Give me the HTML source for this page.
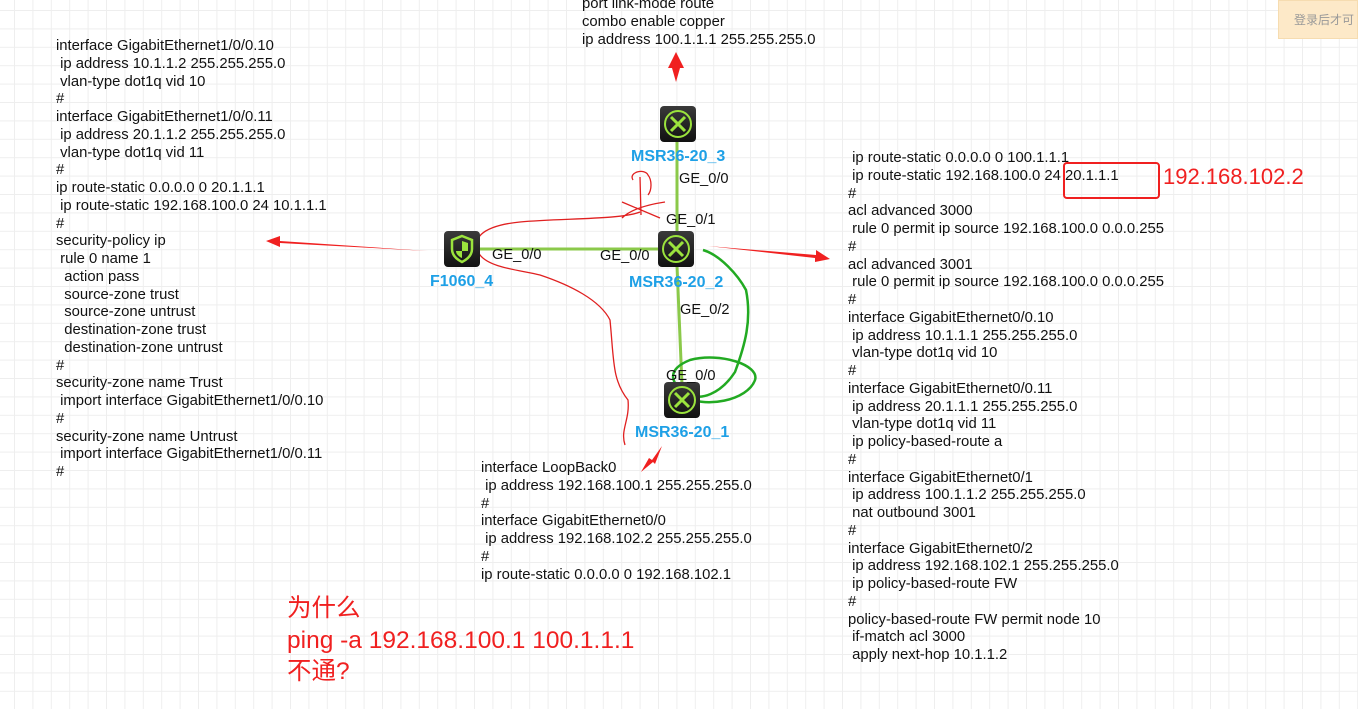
<!DOCTYPE html>
<html><head><meta charset="utf-8"><style>
html,body{margin:0;padding:0}
body{width:1358px;height:709px;position:relative;overflow:hidden;background:#fff;font-family:"Liberation Sans",Arial,sans-serif}
pre{position:absolute;margin:0;font-family:"Liberation Sans",Arial,sans-serif;font-size:14.85px;line-height:17.75px;color:#111}
.lbl{position:absolute;font-weight:bold;color:#1ea0e6;font-size:16px;white-space:nowrap}
.ge{position:absolute;font-size:14.6px;color:#111;white-space:nowrap}
.ic{position:absolute;width:36px;height:36px;background:linear-gradient(#3a3a3a,#111);border-radius:4px}
</style></head><body>
<svg width="1358" height="709" style="position:absolute;left:0;top:0">
<defs><pattern id="g" x="14" y="10" width="18.4" height="18.4" patternUnits="userSpaceOnUse">
<path d="M0,0 H18.4 M0,0 V18.4" stroke="#eeeeee" stroke-width="2" fill="none"/></pattern></defs>
<rect width="1358" height="709" fill="url(#g)"/>
</svg>
<div style="position:absolute;left:1278px;top:0;width:80px;height:39px;background:#fde9c8;border:1px solid #f6dcb0;box-sizing:border-box"></div>
<div style="position:absolute;left:1294px;top:11px;font-size:12px;color:#999;font-family:'Liberation Sans','Noto Sans CJK SC',sans-serif;white-space:nowrap">登录后才可</div>

<svg width="1358" height="709" style="position:absolute;left:0;top:0">
<g stroke="#8bc94a" stroke-width="3" fill="none">
<line x1="478" y1="249" x2="660" y2="249"/>
<line x1="677" y1="140" x2="677" y2="232"/>
<line x1="677" y1="266" x2="682" y2="385"/>
</g>
<g fill="#f02020" stroke="none">
<polygon points="428,251 280,241 280,236 266,241 280,247 280,243"/>
<polygon points="708,246 816,255 816,250 830,259 815,262 815,258"/>
<polygon points="676,82 672,68 668,68 676,52 684,68 680,68"/>
<polygon points="662,446 652,460 649,458 641,472 653,462 655,464"/>
</g>
<path d="M633,180 C628,172 645,168 648,175 C652,180 652,190 648,195 M640,177 L641,215 M622,202 L660,218 M622,218 C630,210 645,205 665,202 M640,212 C620,220 560,218 520,222 C480,226 470,240 480,255 C490,268 520,270 540,275 C570,285 600,300 610,320 C614,360 612,380 628,400 C630,420 620,430 625,445"
 stroke="#e02020" stroke-width="1.3" fill="none"/>
<path d="M703,250 C720,255 738,275 746,290 C752,320 745,345 735,372 C720,395 700,400 690,395 C670,385 665,370 690,360 C720,352 760,365 755,380 C748,400 705,410 680,395"
 stroke="#22aa22" stroke-width="2.5" fill="none"/>
<rect x="1064" y="163" width="95" height="35" rx="3" stroke="#f02020" stroke-width="2" fill="none"/>
</svg>

<div class="ic" style="left:444px;top:231px"><svg width="36" height="36"><path d="M18,5 L28,9 L28,18 C28,25 22,29 18,31 C14,29 8,25 8,18 L8,9 Z" fill="none" stroke="#9be33d" stroke-width="2.5"/><path d="M18,10 L18,20 L24,20 L24,12 Z M12,20 L18,20 L18,27 C15,26 12,23 12,20Z" fill="#9be33d"/></svg></div>
<div class="ic" style="left:660px;top:106px"><svg width="36" height="36"><circle cx="18" cy="18" r="13" fill="none" stroke="#9be33d" stroke-width="2"/><path d="M11,11 L25,25 M25,11 L11,25" stroke="#9be33d" stroke-width="3"/></svg></div>
<div class="ic" style="left:658px;top:231px"><svg width="36" height="36"><circle cx="18" cy="18" r="13" fill="none" stroke="#9be33d" stroke-width="2"/><path d="M11,11 L25,25 M25,11 L11,25" stroke="#9be33d" stroke-width="3"/></svg></div>
<div class="ic" style="left:664px;top:382px"><svg width="36" height="36"><circle cx="18" cy="18" r="13" fill="none" stroke="#9be33d" stroke-width="2"/><path d="M11,11 L25,25 M25,11 L11,25" stroke="#9be33d" stroke-width="3"/></svg></div>

<div class="lbl" style="left:430px;top:273px">F1060_4</div>
<div class="lbl" style="left:631px;top:148px">MSR36-20_3</div>
<div class="lbl" style="left:629px;top:274px">MSR36-20_2</div>
<div class="lbl" style="left:635px;top:424px">MSR36-20_1</div>
<div class="ge" style="left:492px;top:247px">GE_0/0</div>
<div class="ge" style="left:600px;top:248px">GE_0/0</div>
<div class="ge" style="left:679px;top:171px">GE_0/0</div>
<div class="ge" style="left:666px;top:212px">GE_0/1</div>
<div class="ge" style="left:680px;top:302px">GE_0/2</div>
<div class="ge" style="left:666px;top:368px">GE_0/0</div>

<pre style="left:582px;top:-4px">port link-mode route
combo enable copper
ip address 100.1.1.1 255.255.255.0</pre>

<pre style="left:56px;top:38px">interface GigabitEthernet1/0/0.10
 ip address 10.1.1.2 255.255.255.0
 vlan-type dot1q vid 10
#
interface GigabitEthernet1/0/0.11
 ip address 20.1.1.2 255.255.255.0
 vlan-type dot1q vid 11
#
ip route-static 0.0.0.0 0 20.1.1.1
 ip route-static 192.168.100.0 24 10.1.1.1
#
security-policy ip
 rule 0 name 1
  action pass
  source-zone trust
  source-zone untrust
  destination-zone trust
  destination-zone untrust
#
security-zone name Trust
 import interface GigabitEthernet1/0/0.10
#
security-zone name Untrust
 import interface GigabitEthernet1/0/0.11
#</pre>

<pre style="left:848px;top:150px"> ip route-static 0.0.0.0 0 100.1.1.1
 ip route-static 192.168.100.0 24 20.1.1.1
#
acl advanced 3000
 rule 0 permit ip source 192.168.100.0 0.0.0.255
#
acl advanced 3001
 rule 0 permit ip source 192.168.100.0 0.0.0.255
#
interface GigabitEthernet0/0.10
 ip address 10.1.1.1 255.255.255.0
 vlan-type dot1q vid 10
#
interface GigabitEthernet0/0.11
 ip address 20.1.1.1 255.255.255.0
 vlan-type dot1q vid 11
 ip policy-based-route a
#
interface GigabitEthernet0/1
 ip address 100.1.1.2 255.255.255.0
 nat outbound 3001
#
interface GigabitEthernet0/2
 ip address 192.168.102.1 255.255.255.0
 ip policy-based-route FW
#
policy-based-route FW permit node 10
 if-match acl 3000
 apply next-hop 10.1.1.2</pre>

<div style="position:absolute;left:1163px;top:164px;font-size:22px;color:#f02020;white-space:nowrap">192.168.102.2</div>

<pre style="left:481px;top:460px">interface LoopBack0
 ip address 192.168.100.1 255.255.255.0
#
interface GigabitEthernet0/0
 ip address 192.168.102.2 255.255.255.0
#
ip route-static 0.0.0.0 0 192.168.102.1</pre>

<div style="position:absolute;left:287px;top:593px;font-size:24.5px;line-height:31.5px;color:#f02020;font-family:'Liberation Sans','Noto Sans CJK SC',sans-serif;white-space:nowrap">为什么<br>ping -a 192.168.100.1 100.1.1.1<br>不通?</div>
</body></html>
